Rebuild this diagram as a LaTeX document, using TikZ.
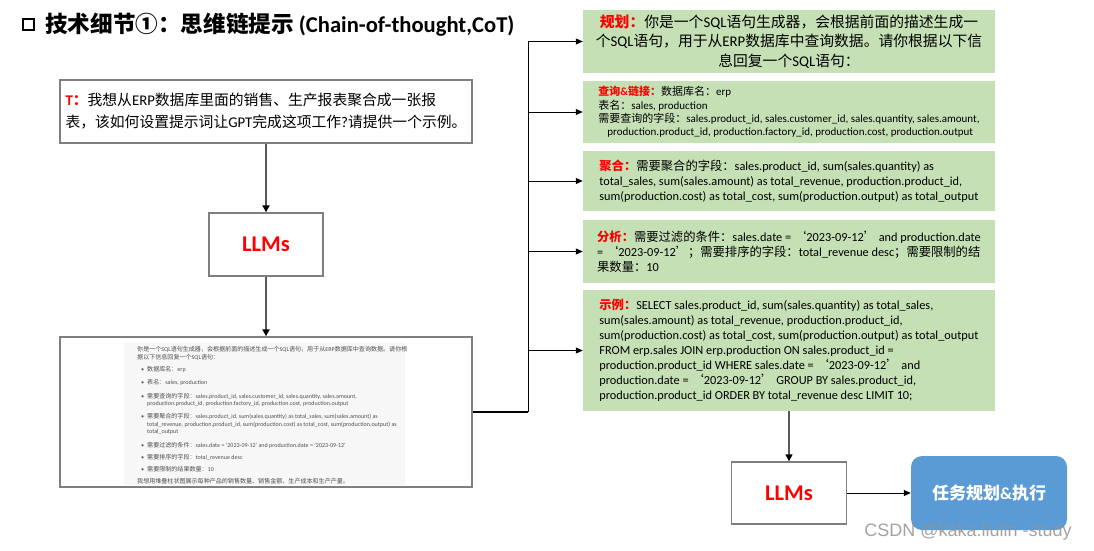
\documentclass[tikz,border=0pt]{standalone}
\usepackage{fontspec}
\usetikzlibrary{arrows.meta}
\setmainfont{Carlito}
\newfontfamily\cjkfont{Noto Sans CJK SC}
\newfontfamily\wmfont{Liberation Sans}

% Chinese characters switch to the CJK font by themselves
\XeTeXinterchartokenstate=1
\newXeTeXintercharclass\cjkcls
\newcount\cjkchar
\def\cjkrange#1#2{\cjkchar=#1\relax
  \loop\XeTeXcharclass\cjkchar=\cjkcls
  \ifnum\cjkchar<#2\relax\advance\cjkchar by 1\repeat}
\cjkrange{"4E00}{"9FFF}
\cjkrange{"3000}{"303F}
\cjkrange{"FF01}{"FF60}
\cjkrange{"2460}{"2473}
\cjkrange{"2018}{"2019}
\XeTeXinterchartoks 0 \cjkcls = {\begingroup\cjkfont}
\XeTeXinterchartoks 4095 \cjkcls = {\begingroup\cjkfont}
\XeTeXinterchartoks \cjkcls 0 = {\endgroup}
\XeTeXinterchartoks \cjkcls 4095 = {\endgroup}

\definecolor{boxgrey}{HTML}{7F7F7F}
\definecolor{arrowgrey}{HTML}{595959}
\definecolor{paleGreen}{HTML}{C5E0B4}
\definecolor{taskBlue}{HTML}{5B9BD5}
\definecolor{shotpanel}{HTML}{F7F7F8}
\definecolor{shotink}{HTML}{505050}

\newcommand{\redlbl}[1]{{\bfseries\color{red}#1}}
\newcommand{\dotitem}{\hspace*{4pt}\textbullet\hspace*{3pt}}
\newcommand{\dotpad}{\hspace*{10pt}}

\begin{document}
\begin{tikzpicture}[x=1pt, y=-1pt,
    greybox/.style={draw=boxgrey, line width=1.4pt, fill=white},
    greenbox/.style={fill=paleGreen, minimum width=412pt, inner sep=0pt, align=left},
    feed/.style={draw=arrowgrey, line width=1.8pt, -{Triangle[length=7pt,width=7pt,color=black]}},
    branch/.style={line width=1pt, -{Triangle[length=7pt,width=6pt]}},
  ]
    \useasboundingbox (0,0) rectangle (1094,551);

    % Title
    \node[draw, line width=2.8pt, minimum size=11pt, inner sep=0pt] (bullet) at (28.5,24.5) {};
    \node[anchor=west, inner sep=0pt, font=\fontsize{22.6}{25}\selectfont\bfseries] (title) at (45,25)
        {技术细节①：思维链提示 (Chain-of-thought,CoT)};

    % Left column: question, model, answer
    \node[greybox, minimum width=412pt, minimum height=63pt, align=left,
          font=\fontsize{14.8}{22}\selectfont] (ask) at (266,111.5)
        {\redlbl{T：}我想从ERP数据库里面的销售、生产报表聚合成一张报\\
         表，该如何设置提示词让GPT完成这项工作?请提供一个示例。};
    \node[greybox, minimum width=114pt, minimum height=63pt, text=red,
          font=\fontsize{22.5}{24}\selectfont\bfseries] (llmA) at (266,244.5) {LLMs};
    \node[greybox, minimum width=412pt, minimum height=150pt] (shot) at (266,412) {};
    \fill[shotpanel] (124,342) rectangle (405,485);
    \node[anchor=north west, inner sep=0pt, align=left, text=shotink,
          font=\fontsize{6.05}{7.4}\selectfont] (shotnote) at (137,346.5) {%
你是一个SQL语句生成器，会根据前面的描述生成一个SQL语句，用于从ERP数据库中查询数据。请你根\\
据以下信息回复一个SQL语句：\\[4.8pt]
\dotitem 数据库名：erp\\[5.8pt]
\dotitem 表名：sales, production\\[6.3pt]
\dotitem 需要查询的字段：sales.product\_id, sales.customer\_id, sales.quantity, sales.amount,\\
\dotpad production.product\_id, production.factory\_id, production.cost, production.output\\[5.8pt]
\dotitem 需要聚合的字段：sales.product\_id, sum(sales.quantity) as total\_sales, sum(sales.amount) as\\
\dotpad total\_revenue, production.product\_id, sum(production.cost) as total\_cost, sum(production.output) as\\
\dotpad total\_output\\[6.3pt]
\dotitem 需要过滤的条件：sales.date = '2023-09-12' and production.date = '2023-09-12'\\[4.8pt]
\dotitem 需要排序的字段：total\_revenue desc\\[4.2pt]
\dotitem 需要限制的结果数量：10\\[4.8pt]
我想用堆叠柱状图展示每种产品的销售数量、销售金额、生产成本和生产产量。};

    \draw[feed] (ask) -- (llmA);
    \draw[feed] (llmA) -- (shot);

    % Right column: the five steps
    \node[greenbox, minimum height=63pt, align=center, font=\fontsize{14.8}{19.5}\selectfont] (plan) at (789,41.5)
        {\redlbl{规划：}你是一个SQL语句生成器，会根据前面的描述生成一\\
         个SQL语句，用于从ERP数据库中查询数据。请你根据以下信\\
         息回复一个SQL语句：};
    \node[greenbox, minimum height=62pt, font=\fontsize{11}{13.3}\selectfont] (query) at (789,112)
        {\redlbl{查询\&链接：}数据库名：erp\\
         表名：sales, production\\
         需要查询的字段：sales.product\_id, sales.customer\_id, sales.quantity, sales.amount,\\
         \hspace*{9pt}production.product\_id, production.factory\_id, production.cost, production.output};
    \node[greenbox, minimum height=60pt, font=\fontsize{12.3}{14.8}\selectfont] (agg) at (789,181)
        {\redlbl{聚合：}需要聚合的字段：sales.product\_id, sum(sales.quantity) as\\
         total\_sales, sum(sales.amount) as total\_revenue, production.product\_id,\\
         sum(production.cost) as total\_cost, sum(production.output) as total\_output};
    \node[greenbox, minimum height=63pt, font=\fontsize{12.3}{14.8}\selectfont] (filt) at (789,251.5)
        {\redlbl{分析：}需要过滤的条件：sales.date = ‘2023-09-12’ and production.date\\
         = ‘2023-09-12’；需要排序的字段：total\_revenue desc；需要限制的结\\
         果数量：10};
    \node[greenbox, minimum height=121pt, font=\fontsize{12.3}{15}\selectfont] (demo) at (789,350.5)
        {\redlbl{示例：}SELECT sales.product\_id, sum(sales.quantity) as total\_sales,\\
         sum(sales.amount) as total\_revenue, production.product\_id,\\
         sum(production.cost) as total\_cost, sum(production.output) as total\_output\\
         FROM erp.sales JOIN erp.production ON sales.product\_id =\\
         production.product\_id WHERE sales.date = ‘2023-09-12’ and\\
         production.date = ‘2023-09-12’ GROUP BY sales.product\_id,\\
         production.product\_id ORDER BY total\_revenue desc LIMIT 10;};

    % Fan out from the answer to every step
    \coordinate (split) at (528,412);
    \draw[line width=1.6pt] (shot.east) -- (split);
    \foreach \tgt in {plan,query,agg,filt,demo}
        \draw[branch] (split) |- (\tgt.west);

    % Bottom: model again, then the task
    \node[greybox, minimum width=115pt, minimum height=62pt, text=red,
          font=\fontsize{22.5}{24}\selectfont\bfseries] (llmB) at (789,493) {LLMs};
    \node[fill=taskBlue, rounded corners=11pt, minimum width=156pt, minimum height=74pt, text=white,
          font=\fontsize{17}{20}\selectfont\bfseries] (exec) at (989,493) {任务规划\&执行};
    \draw[feed, line width=1.5pt] (demo) -- (llmB);
    \draw[branch] (llmB) -- (exec);

    % Watermark
    \node[text=gray!85, opacity=0.85, font=\wmfont\fontsize{18}{20}\selectfont] (mark) at (968,532)
        {CSDN @kaka.liulin -study};
\end{tikzpicture}
\end{document}
